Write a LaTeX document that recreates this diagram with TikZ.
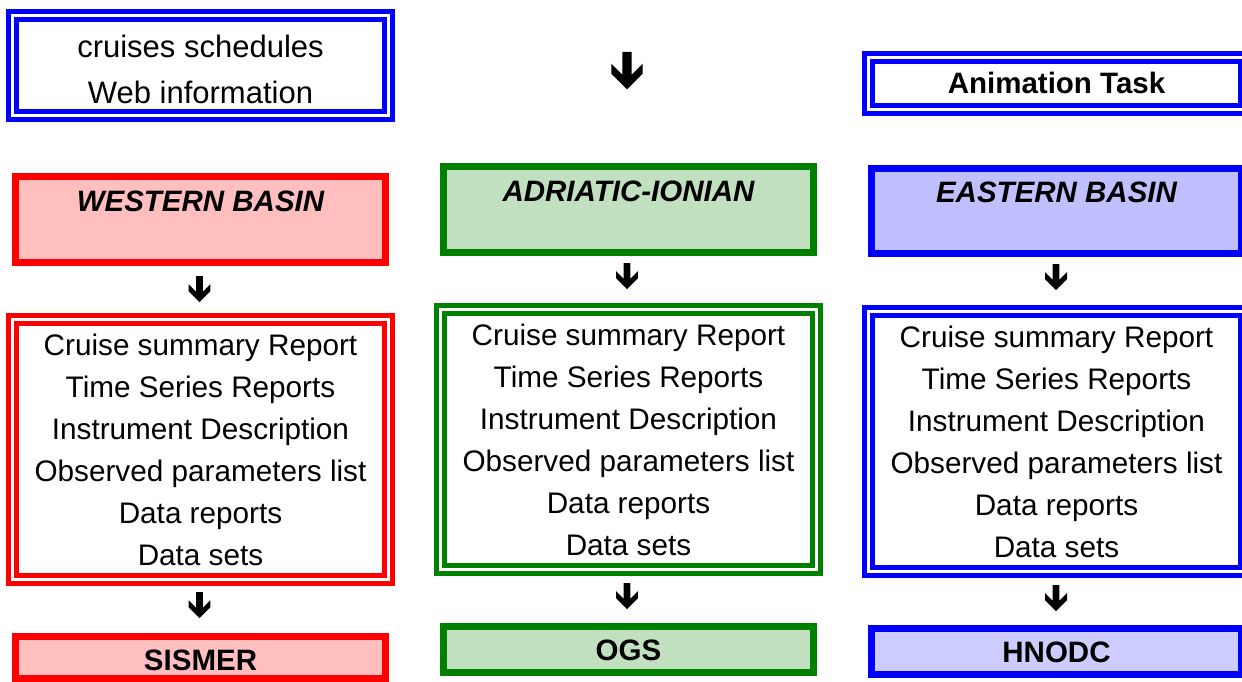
\documentclass[tikz,border=0pt]{standalone}
\usepackage{fontspec}
\setmainfont{Liberation Sans}
\definecolor{wred}{RGB}{255,0,0}
\definecolor{wpink}{RGB}{255,191,191}
\definecolor{agreen}{RGB}{0,128,0}
\definecolor{alight}{RGB}{192,224,192}
\definecolor{eblue}{RGB}{0,0,255}
\definecolor{elight}{RGB}{192,192,255}
\definecolor{hlight}{RGB}{204,204,255}
\begin{document}
\begin{tikzpicture}[x=1pt,y=-1pt,
  dblbox/.style={draw=#1, line width=5pt, double=white, double distance=3pt,
    minimum width=376pt, inner sep=0pt, align=center},
  hdrbox/.style 2 args={draw=#1, fill=#2, line width=7pt,
    minimum width=370pt, inner sep=0pt},
  bodytext/.style={font=\fontsize{29.7}{42}\selectfont},
  toptext/.style={font=\fontsize{31}{46}\selectfont, align=center, inner sep=0pt},
  hdrtext/.style={font=\fontsize{29.5}{35}\selectfont\bfseries\itshape, anchor=base, inner sep=0pt},
  tagtext/.style={font=\fontsize{29.5}{35}\selectfont\bfseries, anchor=base, inner sep=0pt},
  dnarrow/.pic={\fill[black] (-4.7,0) -- (4.7,0) -- (4.7,22.7) -- (15.7,11.7) -- (15.7,21.7)
     -- (0,37.4) -- (-15.7,21.7) -- (-15.7,11.7) -- (-4.7,22.7) -- cycle;}
]
\useasboundingbox (0,0) rectangle (1242,682);

% top row
\node[dblbox=eblue, minimum height=100pt] (web) at (200.5,65.5) {};
\node[toptext] (webt) at (200.5,69) {cruises schedules\\Web information};
\node[dblbox=eblue, minimum height=52pt] (anim) at (1056.5,83.5) {};
\node[tagtext] (animt) at (1056.5,94) {Animation Task};

% headers
\node[hdrbox={wred}{wpink}, minimum height=86pt] (wb) at (200.5,219.5) {};
\node[hdrtext] (wbt) at (200.5,211) {WESTERN BASIN};
\node[hdrbox={agreen}{alight}, minimum height=86pt] (ai) at (628.5,209.5) {};
\node[hdrtext] (ait) at (628.5,201) {ADRIATIC-IONIAN};
\node[hdrbox={eblue}{elight}, minimum height=85pt] (eb) at (1056.5,211) {};
\node[hdrtext] (ebt) at (1056.5,202) {EASTERN BASIN};

% content boxes
\node[dblbox=wred, minimum height=260pt, bodytext] (wc) at (200.5,449.5)
  {Cruise summary Report\\Time Series Reports\\Instrument Description\\Observed parameters list\\Data reports\\Data sets};
\node[dblbox=agreen, minimum height=260pt, bodytext] (ac) at (628.5,439.5)
  {Cruise summary Report\\Time Series Reports\\Instrument Description\\Observed parameters list\\Data reports\\Data sets};
\node[dblbox=eblue, minimum height=260pt, bodytext] (ec) at (1056.5,441.5)
  {Cruise summary Report\\Time Series Reports\\Instrument Description\\Observed parameters list\\Data reports\\Data sets};

% bottom boxes
\node[hdrbox={wred}{wpink}, minimum height=42pt] (sis) at (200.5,657.5) {};
\node[tagtext] (sist) at (200.5,670) {SISMER};
\node[hdrbox={agreen}{alight}, minimum height=46pt] (ogs) at (628.5,649.5) {};
\node[tagtext] (ogst) at (628.5,660) {OGS};
\node[hdrbox={eblue}{hlight}, minimum height=46pt] (hno) at (1056.5,651.5) {};
\node[tagtext] (hnot) at (1056.5,662) {HNODC};

% arrows
\pic at (627,52) {dnarrow};
\pic[scale=0.7] at (199.5,276) {dnarrow};
\pic[scale=0.7] at (627,263) {dnarrow};
\pic[scale=0.7] at (1056,264) {dnarrow};
\pic[scale=0.7] at (199.5,592) {dnarrow};
\pic[scale=0.7] at (627,583) {dnarrow};
\pic[scale=0.7] at (1056,585) {dnarrow};
\end{tikzpicture}
\end{document}
